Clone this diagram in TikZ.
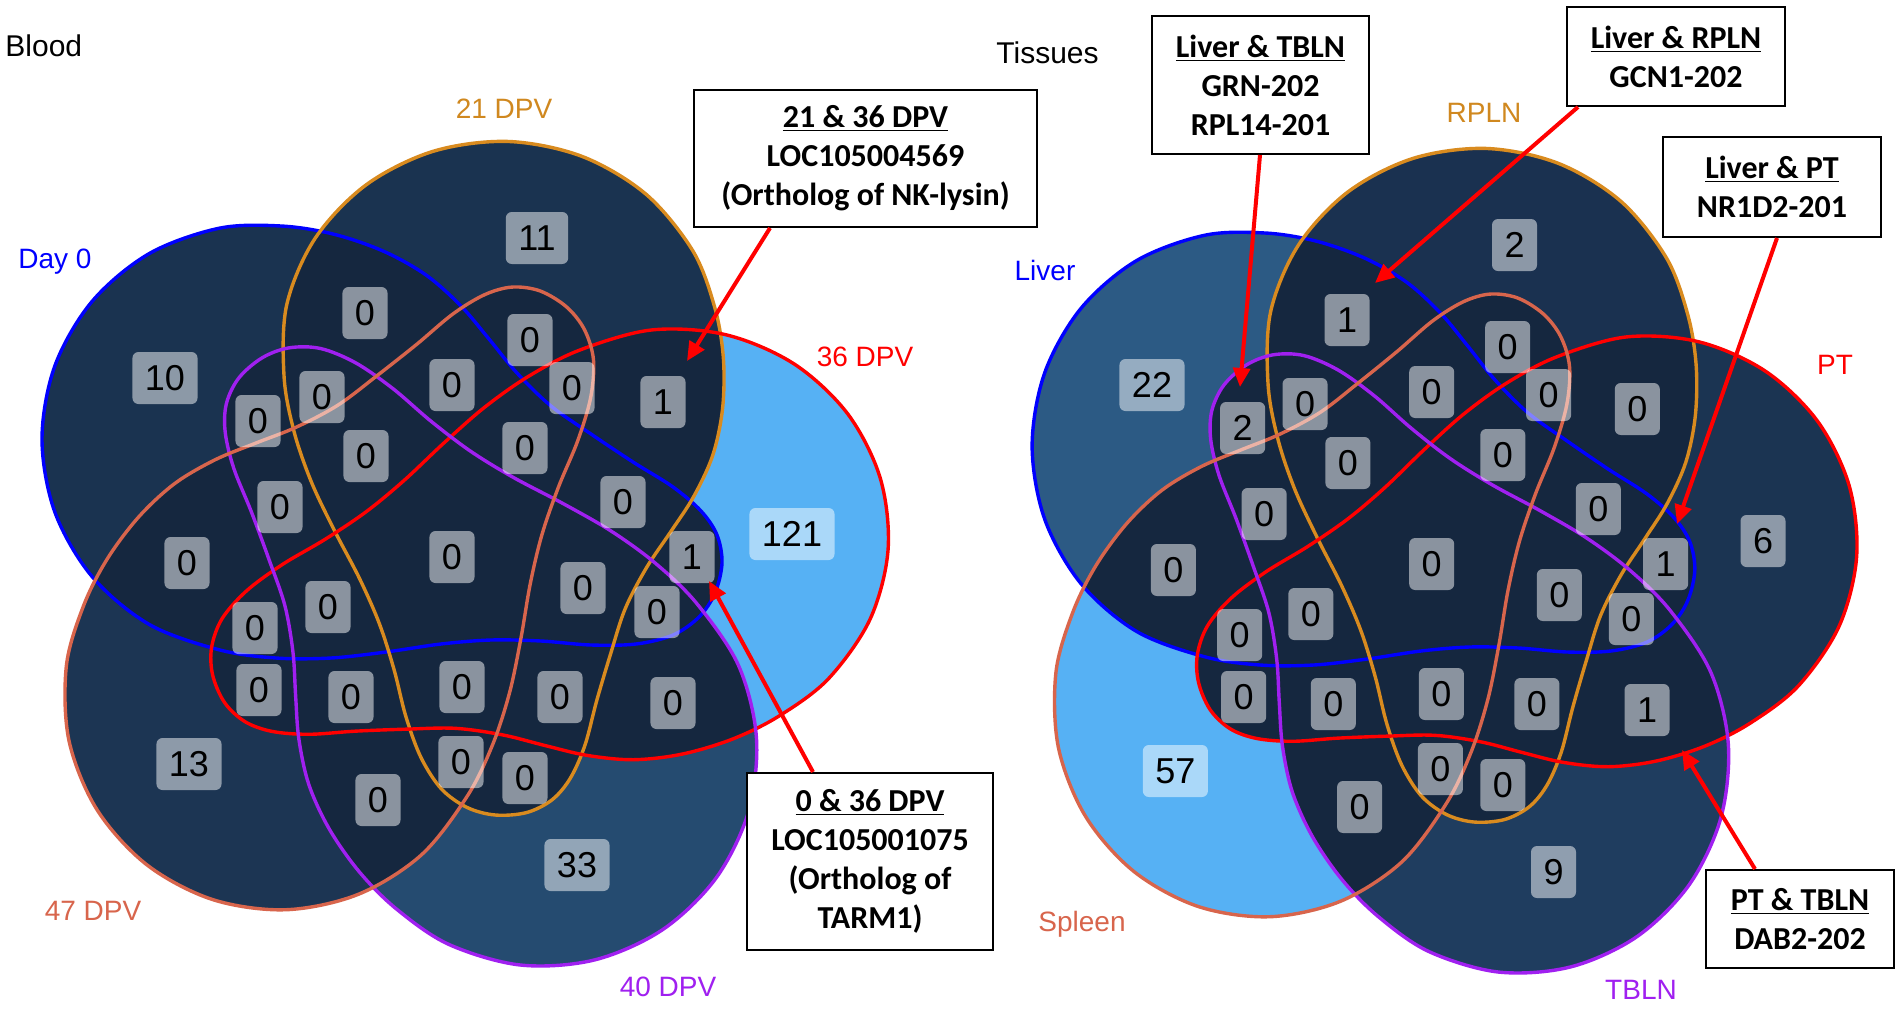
\documentclass[tikz,border=0pt]{standalone}
\usepackage{fontspec}
\setmainfont{Liberation Sans}
\newfontfamily\calib{Carlito}
\usetikzlibrary{arrows.meta}
\definecolor{ovl}{HTML}{15273F}
\definecolor{lnB}{HTML}{0000FF}
\definecolor{lnO}{HTML}{D98B1F}
\definecolor{lbO}{HTML}{D0881F}
\definecolor{lnR}{HTML}{FF0000}
\definecolor{lnP}{HTML}{A020F0}
\definecolor{lnS}{HTML}{D8654C}
\definecolor{fLa}{HTML}{1A3350}
\definecolor{fLb}{HTML}{1A3350}
\definecolor{fLc}{HTML}{56B1F4}
\definecolor{fLd}{HTML}{254B70}
\definecolor{fLe}{HTML}{1C3553}
\definecolor{fRa}{HTML}{2C5A84}
\definecolor{fRb}{HTML}{1A3150}
\definecolor{fRc}{HTML}{1B3452}
\definecolor{fRd}{HTML}{1F3D5F}
\definecolor{fRe}{HTML}{56B1F4}
\newcommand\egg[1]{\path[#1] plot[smooth cycle,tension=0.55] coordinates {(271,12) (266,-16) (250,-40) (222,-64) (182,-89) (140,-117) (100,-145) (66,-178) (38,-212) (10,-245) (-25,-276) (-68,-300) (-118,-317) (-170,-325) (-232.2,-322.7) (-302,-297.3) (-358.9,-249.6) (-396.1,-185.2) (-409,-112) (-396.1,-38.8) (-358.9,25.6) (-302,73.3) (-232.2,98.7) (-175,107) (-120,107) (-65,101) (-10,93) (40,89) (90,90) (140,94) (185,93) (222,84) (248,66) (264,42)};}
\tikzset{
  sh0/.style={},
  sh1/.style={shift={(2,9.2)},xscale=1.02,yscale=0.965,rotate=-72},
  sh2/.style={shift={(0,7.4)},yscale=0.965,rotate=-144},
  sh3/.style={shift={(0,-4)},rotate=-216},
  sh4/.style={shift={(-6,-6)},rotate=-288},
  cnt/.style={fill=white, fill opacity=0.5, text opacity=1, text=black, rounded corners=3pt, inner xsep=6.25pt, inner ysep=0pt, minimum height=26pt, font=\fontsize{18}{18}\selectfont},
  setlab/.style={font=\fontsize{14}{16}\selectfont, inner sep=0pt},
  title/.style={font=\fontsize{15}{17}\selectfont, inner sep=0pt, anchor=west},
  callout/.style={draw=black, line width=1pt, fill=white, align=center, inner sep=0pt, font=\calib\bfseries\fontsize{16}{19.5}\selectfont},
  arr/.style={draw=lnR, line width=2pt, -{Triangle[length=9.5pt,width=8.5pt]}}
}
\newcommand\venn[5]{%
  \foreach \k/\c in {0/#1,1/#2,2/#3,3/#4,4/#5}{\edef\doit{\noexpand\egg{fill=\c,sh\k}}\doit}
  \foreach \a in {0,...,3}{\foreach \b in {1,...,4}{\ifnum\a<\b\relax
    \begin{scope}\edef\doit{\noexpand\egg{clip,sh\a}}\doit
      \edef\doit{\noexpand\egg{fill=ovl,sh\b}}\doit\end{scope}\fi}}
  \foreach \k/\c in {0/lnB,1/lnO,2/lnR,3/lnP,4/lnS}{\edef\doit{\noexpand\egg{draw=\c,line width=1.7pt,sh\k}}\doit}
}
\begin{document}
\begin{tikzpicture}[x=0.5pt,y=-0.5pt]
\useasboundingbox (0,0) rectangle (1901,1008);
\fill[white] (0,0) rectangle (1901,1008);
\begin{scope}[shift={(451,551)}]\venn{fLa}{fLb}{fLc}{fLd}{fLe}\end{scope}
\begin{scope}[shift={(1430.7,558)},xscale=0.9745]\venn{fRa}{fRb}{fRc}{fRd}{fRe}\end{scope}
% titles
\node[title] (tBlood) at (5,46) {Blood};
\node[title] (tTiss) at (996,53) {Tissues};
% set labels left
\node[setlab, text=lbO] (sL1) at (504,109) {21 DPV};
\node[setlab, text=lnB] (sL0) at (55,262) {Day 0};
\node[setlab, text=lnR] (sL2) at (865,357) {36 DPV};
\node[setlab, text=lnS] (sL4) at (93,911) {47 DPV};
\node[setlab, text=lnP] (sL3) at (668,987) {40 DPV};
% set labels right
\node[setlab, text=lbO] (sR1) at (1484,113) {RPLN};
\node[setlab, text=lnB] (sR0) at (1045,270) {Liver};
\node[setlab, text=lnR] (sR2) at (1835,365) {PT};
\node[setlab, text=lnS] (sR4) at (1082,924) {Spleen};
\node[setlab, text=lnP] (sR3) at (1641,990) {TBLN};
% counts left
\node[cnt] (l1) at (537,238) {11};
\node[cnt] (l2) at (165,378) {10};
\node[cnt] (l3) at (365,313) {0};
\node[cnt] (l4) at (530,340) {0};
\node[cnt] (l5) at (663,402) {1};
\node[cnt] (l6) at (572,388) {0};
\node[cnt] (l7) at (452,385) {0};
\node[cnt] (l8) at (322,397) {0};
\node[cnt] (l9) at (258,421) {0};
\node[cnt] (l10) at (366,456) {0};
\node[cnt] (l11) at (525,448) {0};
\node[cnt] (l12) at (623,502) {0};
\node[cnt] (l13) at (280,507) {0};
\node[cnt] (l14) at (452,557) {0};
\node[cnt] (l15) at (792,534) {121};
\node[cnt] (l16) at (692,557) {1};
\node[cnt] (l17) at (187,563) {0};
\node[cnt] (l18) at (583,588) {0};
\node[cnt] (l19) at (328,607) {0};
\node[cnt] (l20) at (657,612) {0};
\node[cnt] (l21) at (255,628) {0};
\node[cnt] (l22) at (259,690) {0};
\node[cnt] (l23) at (351,697) {0};
\node[cnt] (l24) at (462,687) {0};
\node[cnt] (l25) at (560,697) {0};
\node[cnt] (l26) at (673,703) {0};
\node[cnt] (l27) at (189,764) {13};
\node[cnt] (l28) at (461,762) {0};
\node[cnt] (l29) at (525,778) {0};
\node[cnt] (l30) at (378,800) {0};
\node[cnt] (l31) at (577,865) {33};
% counts right
\node[cnt] (r1) at (1514.5,245) {2};
\node[cnt] (r2) at (1152,385) {22};
\node[cnt] (r3) at (1347,320) {1};
\node[cnt] (r4) at (1507.7,347) {0};
\node[cnt] (r5) at (1637.3,409) {0};
\node[cnt] (r6) at (1548.6,395) {0};
\node[cnt] (r7) at (1431.7,392) {0};
\node[cnt] (r8) at (1305,404) {0};
\node[cnt] (r9) at (1242.6,428) {2};
\node[cnt] (r10) at (1347.9,463) {0};
\node[cnt] (r11) at (1502.8,455) {0};
\node[cnt] (r12) at (1598.3,509) {0};
\node[cnt] (r13) at (1264.1,514) {0};
\node[cnt] (r14) at (1431.7,564) {0};
\node[cnt] (r15) at (1763,541) {6};
\node[cnt] (r16) at (1665.6,564) {1};
\node[cnt] (r17) at (1173.4,570) {0};
\node[cnt] (r18) at (1559.3,595) {0};
\node[cnt] (r19) at (1310.8,614) {0};
\node[cnt] (r20) at (1631.4,619) {0};
\node[cnt] (r21) at (1239.7,635) {0};
\node[cnt] (r22) at (1243.6,697) {0};
\node[cnt] (r23) at (1333.3,704) {0};
\node[cnt] (r24) at (1441.4,694) {0};
\node[cnt] (r25) at (1536.9,704) {0};
\node[cnt] (r26) at (1647,710) {1};
\node[cnt] (r27) at (1175.4,771) {57};
\node[cnt] (r28) at (1440.4,769) {0};
\node[cnt] (r29) at (1502.8,785) {0};
\node[cnt] (r30) at (1359.6,807) {0};
\node[cnt] (r31) at (1553.5,872) {9};
% callouts
\node[callout, minimum width=171.5pt, minimum height=68.5pt] (b1) at (865.5,158.5) {\underline{21 \& 36 DPV}\\LOC105004569\\(Ortholog of NK-lysin)};
\node[callout, minimum width=123pt, minimum height=88.5pt] (b2) at (870,861.5) {\underline{0 \& 36 DPV}\\LOC105001075\\(Ortholog of\\TARM1)};
\node[callout, minimum width=108.5pt, minimum height=69pt] (b3) at (1260.5,85) {\underline{Liver \& TBLN}\\GRN-202\\RPL14-201};
\node[callout, minimum width=109pt, minimum height=49.5pt] (b4) at (1676,56.5) {\underline{Liver \& RPLN}\\GCN1-202};
\node[callout, minimum width=109pt, minimum height=50pt] (b5) at (1772,187) {\underline{Liver \& PT}\\NR1D2-201};
\node[callout, minimum width=94pt, minimum height=49pt] (b6) at (1800,919) {\underline{PT \& TBLN}\\DAB2-202};
% arrows
\coordinate (a1s) at (770,228); \coordinate (a1e) at (687,361);
\coordinate (a2s) at (813,772); \coordinate (a2e) at (709,581);
\coordinate (a3s) at (1260,155); \coordinate (a3e) at (1240,387);
\coordinate (a4s) at (1578,107); \coordinate (a4e) at (1375,283);
\coordinate (a5s) at (1777,238); \coordinate (a5e) at (1677,524);
\coordinate (a6s) at (1755,869); \coordinate (a6e) at (1682,750);
\draw[arr] (a1s) -- (a1e);
\draw[arr] (a2s) -- (a2e);
\draw[arr] (a3s) -- (a3e);
\draw[arr] (a4s) -- (a4e);
\draw[arr] (a5s) -- (a5e);
\draw[arr] (a6s) -- (a6e);
\end{tikzpicture}
\end{document}
